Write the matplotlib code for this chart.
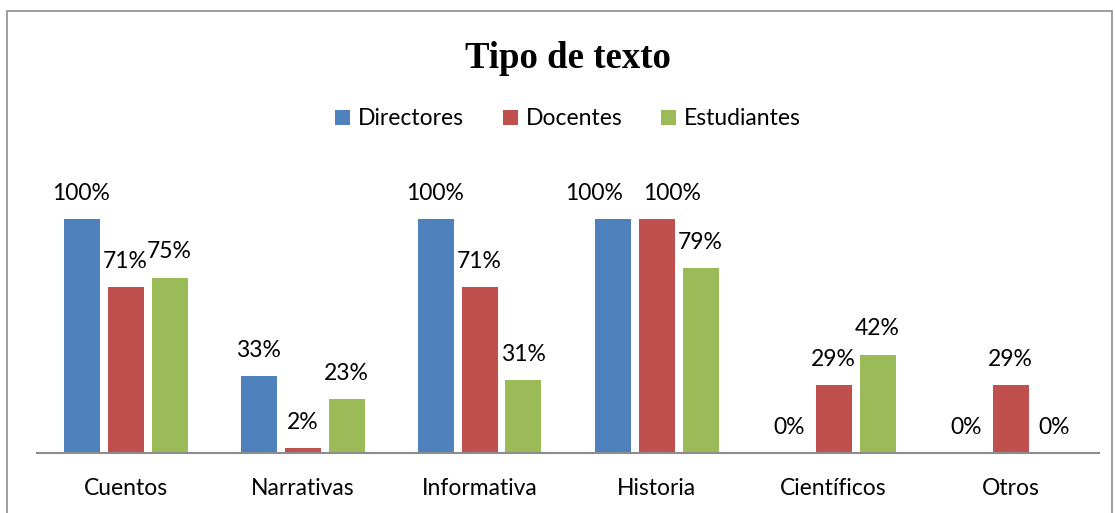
import numpy as np
import matplotlib.pyplot as plt
from matplotlib.patches import Rectangle

# データ
categories = ['Cuentos', 'Narrativas', 'Informativa', 'Historia', 'Científicos', 'Otros']
series_names = ['Directores', 'Docentes', 'Estudiantes']
directores = [100, 33, 100, 100, 0, 0]
docentes = [71, 2, 71, 100, 29, 29]
estudiantes = [75, 23, 31, 79, 42, 0]
colors = ['#4F81BD', '#C0504D', '#9BBB59']

# 重なるラベルの横ずらし (points)
nudge = {(0, 3): -13, (1, 3): 11.5}

plt.rcParams['font.family'] = ['Lato', 'DejaVu Sans']

W, H = 1115, 513
fig = plt.figure(figsize=(W / 100, H / 100), dpi=100)

# 外枠
fig.patches.append(Rectangle((7 / W, -0.05), 1105 / W, 1.05 - 11 / H,
                             transform=fig.transFigure, fill=False,
                             edgecolor='#8c8c8c', linewidth=1.2))

top_px = 453 - 234 * 1.2
ax = fig.add_axes([37 / W, 60 / H, 1062 / W, (453 - top_px) / H])

x = np.arange(len(categories))
width = 36 / 177
offset = 44 / 177
for i, (vals, name) in enumerate(zip([directores, docentes, estudiantes], series_names)):
    pos = x + (i - 1) * offset
    ax.bar(pos, np.array(vals) / 100, width, color=colors[i], label=name)
    for j, (p, v) in enumerate(zip(pos, vals)):
        ax.annotate(f'{v}%', (p, v / 100), xytext=(nudge.get((i, j), 0), 11),
                    textcoords='offset points', ha='center', va='bottom', fontsize=16.5)

ax.set_xlim(-0.5, len(categories) - 0.5)
ax.set_ylim(0, 1.2)
ax.set_xticks(x)
ax.set_xticklabels(categories, fontsize=16.5)
ax.tick_params(axis='x', length=0, pad=18)
ax.set_yticks([])
for s in ['top', 'right', 'left']:
    ax.spines[s].set_visible(False)
ax.spines['bottom'].set_color('#8c8c8c')
ax.spines['bottom'].set_linewidth(1.5)

cx = 568 / W
fig.text(cx, 1 - 59 / H, 'Tipo de texto', ha='center', va='center',
         fontsize=26.5, fontweight='bold', family='Liberation Serif')

fig.legend(loc='center', bbox_to_anchor=(cx, 1 - 119 / H), ncol=3, frameon=False,
           fontsize=16.5, handlelength=0.65, handleheight=0.65, handletextpad=0.35,
           columnspacing=1.7)

fig.savefig('out.png', dpi=100)
